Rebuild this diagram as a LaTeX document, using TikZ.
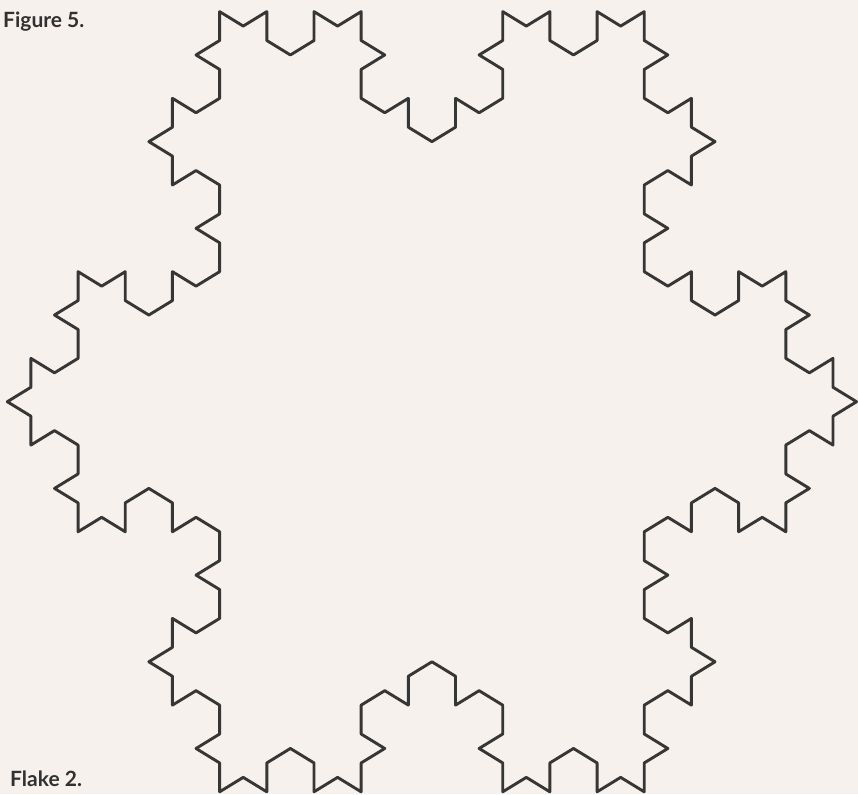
\documentclass[tikz,border=0pt]{standalone}
\usepackage{fontspec}
\setsansfont{Lato}
\usetikzlibrary{lindenmayersystems}
\definecolor{paper}{HTML}{F6F1EC}
\definecolor{ink}{HTML}{363636}
\pgfdeclarelindenmayersystem{Koch flake}{
  \rule{F -> F-F++F-F}
}
\tikzset{
  flake/.style={
    draw = ink,
    line width = 2.9pt,
    line join = round,
    line cap = round,
    lindenmayer system={Koch flake, axiom=F++F++F, order=3,
      step=27.24pt, angle=60}
  },
  caption/.style={
    anchor = base west,
    inner sep = 0pt,
    text = ink!90!black,
    font = \sffamily\bfseries\fontsize{21}{24}\selectfont
  }
}

\begin{document}
\begin{tikzpicture}[x=1pt,y=-1pt]
\useasboundingbox (0,0) rectangle (858,794);
\fill[paper] (0,0) rectangle (858,794);
% left tip of the flake
\coordinate (tip) at (7.3,401.7);
\begin{scope}[shift={(tip)},yscale=1.061]
  \draw[flake,rotate=-30] (0,0) lindenmayer system;
\end{scope}
\node[caption] (figname) at (3,28) {Figure 5.};
\node[caption] (flakename) at (10,786) {Flake 2.};
\end{tikzpicture}
\end{document}
